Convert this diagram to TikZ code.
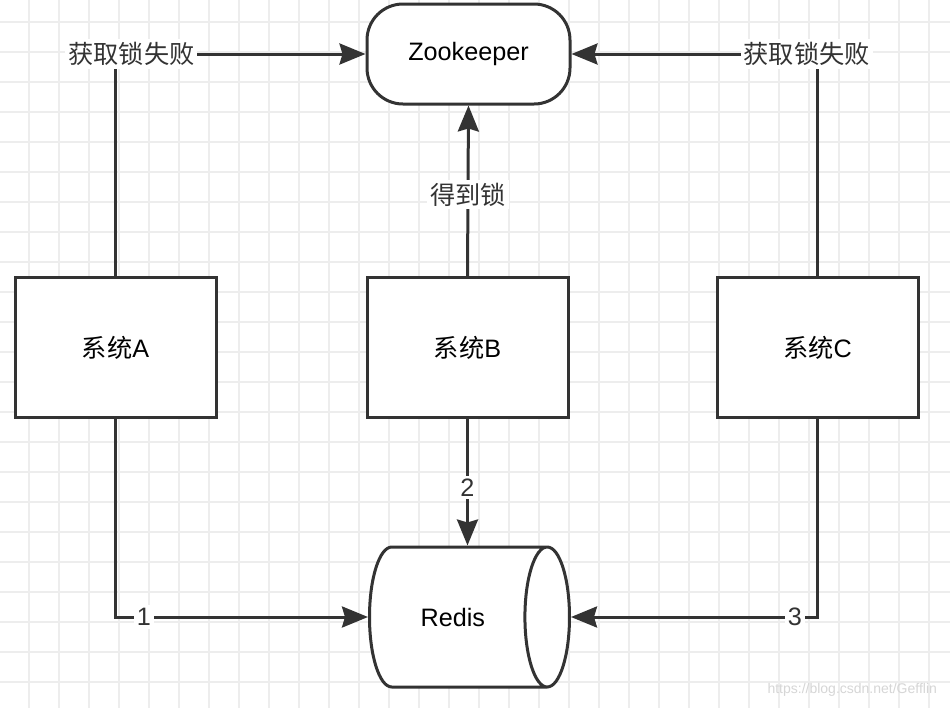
\documentclass[tikz,border=0pt]{standalone}
\usepackage{fontspec}
\setmainfont{Liberation Sans}
\newfontfamily\cjk{Noto Sans CJK SC}
\usetikzlibrary{arrows.meta}
\usetikzlibrary{positioning}
\usetikzlibrary{shapes.geometric}
\definecolor{ink}{HTML}{333333}
\definecolor{gridgray}{HTML}{EDEDED}
\definecolor{markgray}{HTML}{D6D6D6}
\tikzset{
	sysbox/.style={draw=ink,line width=1.5pt,fill=white,minimum width=100.5pt,minimum height=70pt},
	conn/.style={draw=ink,line width=1.5pt,-{Stealth[length=13pt,width=10.5pt,inset=1.5pt]}},
	lbl/.style={fill=white,inner sep=1.5pt,text=ink}
}

\begin{document}
\begin{tikzpicture}[x=0.5pt,y=-0.5pt,font=\fontsize{12.6}{15}\selectfont]
	\useasboundingbox (0,0) rectangle (950,708);
	\fill[white] (0,0) rectangle (950,708);
	% grid
	\foreach \gx in {29,59,...,950} \draw[gridgray,line width=0.75pt] (\gx,0)--(\gx,708);
	\foreach \gy in {22,52,...,708} \draw[gridgray,line width=0.75pt] (0,\gy)--(950,\gy);
	% nodes
	\node[draw=ink,line width=1.5pt,fill=white,rounded corners=18pt,minimum width=101.5pt,minimum height=50pt] (zk) at (468.5,54) {Zookeeper};
	\node[sysbox] (sysA) at (115.5,347.5) {{\cjk 系统}A};
	\node[sysbox] (sysB) at (467.5,347.5) {{\cjk 系统}B};
	\node[sysbox] (sysC) at (817.5,347.5) {{\cjk 系统}C};
	\node[cylinder,draw=ink,line width=1.5pt,fill=white,aspect=1.4,minimum width=70pt,minimum height=100pt,anchor=west] (redis) at (368,617) {Redis};
	% connectors
	\draw[conn] (sysA.north) |- node[lbl,pos=.532]{\cjk 获取锁失败} (zk.west);
	\draw[conn] (sysC.north) |- node[lbl,pos=.522]{\cjk 获取锁失败} (zk.east);
	\draw[conn] (sysB.north) -- node[lbl,pos=.477]{\cjk 得到锁} (zk.south);
	\draw[conn] (sysB.south) -- node[lbl,pos=.54]{2} (sysB.south |- redis.north);
	\draw[conn] (sysA.south) |- node[lbl,pos=.556]{1} (redis.west);
	\draw[conn] (sysC.south) |- node[lbl,pos=.546]{3} (redis.east);
	\node[text=markgray,font=\fontsize{7}{8}\selectfont,anchor=east] (mark) at (944,690) {https://blog.csdn.net/Gefflin};
\end{tikzpicture}
\end{document}
